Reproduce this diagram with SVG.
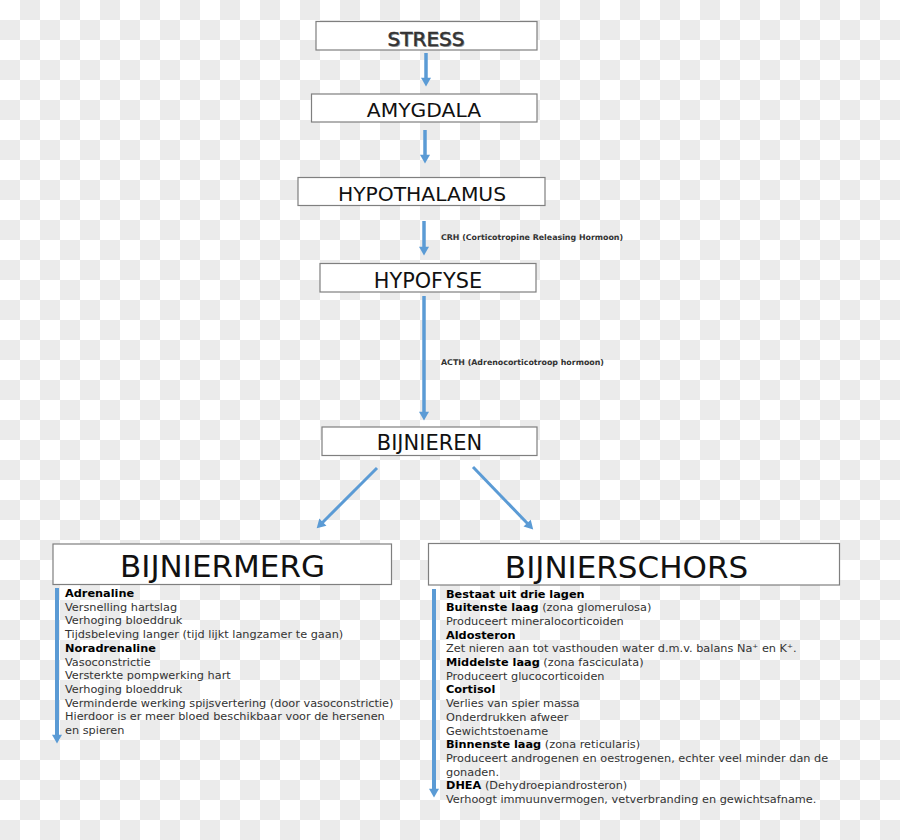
<svg xmlns="http://www.w3.org/2000/svg" width="900" height="840" viewBox="0 0 900 840">
<defs>
<marker id="ah" markerUnits="userSpaceOnUse" markerWidth="10" markerHeight="10" viewBox="0 0 7 8" refX="1" refY="4" orient="auto">
<path d="M0,0 L7,4 L0,8 z" fill="#5b9bd5"/>
</marker>
<style>
.box{fill:#ffffff;stroke:#7f7f7f;stroke-width:1.2}
.hd{font-family:"DejaVu Sans","Verdana",sans-serif;fill:#111;text-anchor:middle}
.arr{stroke:#5b9bd5;stroke-width:3.5;fill:none;marker-end:url(#ah)}
.lbl{font-family:"DejaVu Sans",sans-serif;font-weight:bold;font-size:7.9px;fill:#333}
.tx{font-family:"DejaVu Sans","Verdana",sans-serif;font-size:11.3px;fill:#333}
.b{font-weight:bold;fill:#000}
.chk{stroke:#ebebeb;stroke-width:20;stroke-dasharray:20 20;fill:none}
</style>
</defs>
<rect width="900" height="840" fill="#ffffff"/>
<path class="chk" d="M20,10H900 M0,30H900 M20,50H900 M0,70H900 M20,90H900 M0,110H900 M20,130H900 M0,150H900 M20,170H900 M0,190H900 M20,210H900 M0,230H900 M20,250H900 M0,270H900 M20,290H900 M0,310H900 M20,330H900 M0,350H900 M20,370H900 M0,390H900 M20,410H900 M0,430H900 M20,450H900 M0,470H900 M20,490H900 M0,510H900 M20,530H900 M0,550H900 M20,570H900 M0,590H900 M20,610H900 M0,630H900 M20,650H900 M0,670H900 M20,690H900 M0,710H900 M20,730H900 M0,750H900 M20,770H900 M0,790H900 M20,810H900 M0,830H900"/>

<g id="connectors">
<line class="arr" x1="426" y1="53" x2="426" y2="79"/>
<line class="arr" x1="425" y1="130" x2="425" y2="156"/>
<line class="arr" x1="424" y1="221" x2="424" y2="248"/>
<line class="arr" x1="424" y1="296" x2="424" y2="413"/>
<line class="arr" x1="377" y1="468" x2="322" y2="523" style="stroke-width:3"/>
<line class="arr" x1="473" y1="467" x2="528" y2="524" style="stroke-width:3"/>
<line class="arr" x1="57" y1="588" x2="57" y2="736" style="stroke-width:4"/>
<line class="arr" x1="434" y1="589" x2="434" y2="790" style="stroke-width:4"/>
<text class="lbl" x="441" y="240">CRH (Corticotropine Releasing Hormoon)</text>
<text class="lbl" x="441" y="365">ACTH (Adrenocorticotroop hormoon)</text>
</g>

<g id="stress">
<rect class="box" x="316" y="21.5" width="221" height="28.5"/>
<text class="hd" x="427" y="46.5" font-size="20" style="fill:#999">STRESS</text>
<text class="hd" x="426" y="45.5" font-size="20" style="fill:#333;stroke:#333;stroke-width:0.5">STRESS</text>
</g>

<g id="amygdala">
<rect class="box" x="311.5" y="94" width="225.5" height="28"/>
<text class="hd" x="424" y="116.5" font-size="20.3">AMYGDALA</text>
</g>

<g id="hypothalamus">
<rect class="box" x="298" y="177.5" width="247" height="28"/>
<text class="hd" x="422" y="200.5" font-size="20.3">HYPOTHALAMUS</text>
</g>

<g id="hypofyse">
<rect class="box" x="320" y="263.5" width="216" height="28.5"/>
<text class="hd" x="428" y="287.5" font-size="20.8">HYPOFYSE</text>
</g>

<g id="bijnieren">
<rect class="box" x="322" y="427" width="215" height="28.5"/>
<text class="hd" x="429.5" y="450" font-size="21">BIJNIEREN</text>
</g>

<g id="bijniermerg">
<rect class="box" x="53" y="544" width="338.5" height="40.5"/>
<text class="hd" x="222.5" y="576.5" font-size="31">BIJNIERMERG</text>
<text class="tx" x="65">
<tspan x="65" y="597" class="b">Adrenaline</tspan>
<tspan x="65" y="610.7">Versnelling hartslag</tspan>
<tspan x="65" y="624.4">Verhoging bloeddruk</tspan>
<tspan x="65" y="638.1">Tijdsbeleving langer (tijd lijkt langzamer te gaan)</tspan>
<tspan x="65" y="651.8" class="b">Noradrenaline</tspan>
<tspan x="65" y="665.5">Vasoconstrictie</tspan>
<tspan x="65" y="679.2">Versterkte pompwerking hart</tspan>
<tspan x="65" y="692.9">Verhoging bloeddruk</tspan>
<tspan x="65" y="706.6">Verminderde werking spijsvertering (door vasoconstrictie)</tspan>
<tspan x="65" y="720.3">Hierdoor is er meer bloed beschikbaar voor de hersenen</tspan>
<tspan x="65" y="734">en spieren</tspan>
</text>
</g>

<g id="bijnierschors">
<rect class="box" x="428.5" y="543.5" width="411" height="41.5"/>
<text class="hd" x="626.5" y="577.5" font-size="31">BIJNIERSCHORS</text>
<text class="tx" x="446">
<tspan x="446" y="597.5" class="b">Bestaat uit drie lagen</tspan>
<tspan x="446" y="611.2"><tspan class="b">Buitenste laag</tspan> (zona glomerulosa)</tspan>
<tspan x="446" y="624.9">Produceert mineralocorticoiden</tspan>
<tspan x="446" y="638.6" class="b">Aldosteron</tspan>
<tspan x="446" y="652.3">Zet nieren aan tot vasthouden water d.m.v. balans Na⁺ en K⁺.</tspan>
<tspan x="446" y="666"><tspan class="b">Middelste laag</tspan> (zona fasciculata)</tspan>
<tspan x="446" y="679.7">Produceert glucocorticoiden</tspan>
<tspan x="446" y="693.4" class="b">Cortisol</tspan>
<tspan x="446" y="707.1">Verlies van spier massa</tspan>
<tspan x="446" y="720.8">Onderdrukken afweer</tspan>
<tspan x="446" y="734.5">Gewichtstoename</tspan>
<tspan x="446" y="748.2"><tspan class="b">Binnenste laag</tspan> (zona reticularis)</tspan>
<tspan x="446" y="761.9">Produceert androgenen en oestrogenen, echter veel minder dan de</tspan>
<tspan x="446" y="775.6">gonaden.</tspan>
<tspan x="446" y="789.3"><tspan class="b">DHEA</tspan> (Dehydroepiandrosteron)</tspan>
<tspan x="446" y="803">Verhoogt immuunvermogen, vetverbranding en gewichtsafname.</tspan>
</text>
</g>
</svg>
